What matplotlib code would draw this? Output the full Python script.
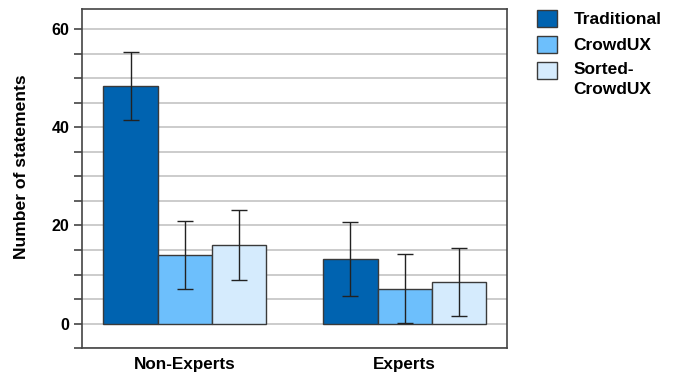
import matplotlib.pyplot as plt
import numpy as np
from matplotlib.patches import Patch
from matplotlib.ticker import MultipleLocator

plt.rcParams["font.family"] = ["Liberation Sans", "DejaVu Sans"]
plt.rcParams["font.weight"] = "bold"

groups = ["Non-Experts", "Experts"]
conditions = ["Traditional", "CrowdUX", "Sorted-\nCrowdUX"]
means = {
    "Traditional": [48.4, 13.2],
    "CrowdUX": [14.0, 7.1],
    "Sorted-\nCrowdUX": [16.0, 8.5],
}
errors = {
    "Traditional": [7.0, 7.5],
    "CrowdUX": [6.9, 7.0],
    "Sorted-\nCrowdUX": [7.1, 6.9],
}
colors = ["#0063b0", "#6dbffc", "#d5ebfd"]

fig = plt.figure(figsize=(6.8, 3.73), dpi=100)
ax = fig.add_axes([0.1206, 0.0662, 0.625, 0.9088])

x = np.arange(len(groups))
width = 0.247
for i, (cond, color) in enumerate(zip(conditions, colors)):
    ax.bar(x + (i - 1) * width, means[cond], width, color=color,
           edgecolor="#3a3a3a", linewidth=1.0, zorder=3)
    ax.errorbar(x + (i - 1) * width, means[cond], yerr=errors[cond], fmt="none",
                ecolor="#222222", elinewidth=1.0, capsize=6, capthick=1.0, zorder=4)

ax.set_xlim(-0.468, 1.465)
ax.set_ylim(-5, 64)
ax.yaxis.set_major_locator(MultipleLocator(20))
ax.yaxis.set_minor_locator(MultipleLocator(5))
ax.grid(axis="y", which="both", color="#cccccc", linewidth=1.4, zorder=0)
ax.set_xticks(x)
ax.set_xticklabels(groups, fontsize=12.3, fontweight="bold")
ax.tick_params(axis="x", length=0, pad=6)
ax.tick_params(axis="y", which="both", direction="out", length=6, width=1.2,
               color="#444444", labelsize=11.5, pad=3)
for lbl in ax.get_yticklabels():
    lbl.set_fontweight("bold")
ax.set_ylabel("Number of statements", fontsize=12.6, fontweight="bold")
ax.yaxis.set_label_coords(-0.125, 0.535)
for spine in ax.spines.values():
    spine.set_color("#444444")
    spine.set_linewidth(1.2)

handles = [Patch(facecolor=c, edgecolor="#3a3a3a", linewidth=1.0) for c in colors]
leg = fig.legend(handles, conditions, loc="upper left",
                 bbox_to_anchor=(537 / 680, 1 - 10 / 373),
                 frameon=False, borderpad=0, borderaxespad=0,
                 handlelength=1.15, handleheight=1.1, handletextpad=0.95,
                 labelspacing=0.5, prop={"weight": "bold", "size": 12.5})
for t in leg.get_texts():
    t.set_linespacing(1.4)
# keep the swatch of the two-line entry level with its first line
swatch = leg.legend_handles[2]
swatch.set_y(swatch.get_y() + 6.5)

fig.savefig("out.png", dpi=100)
